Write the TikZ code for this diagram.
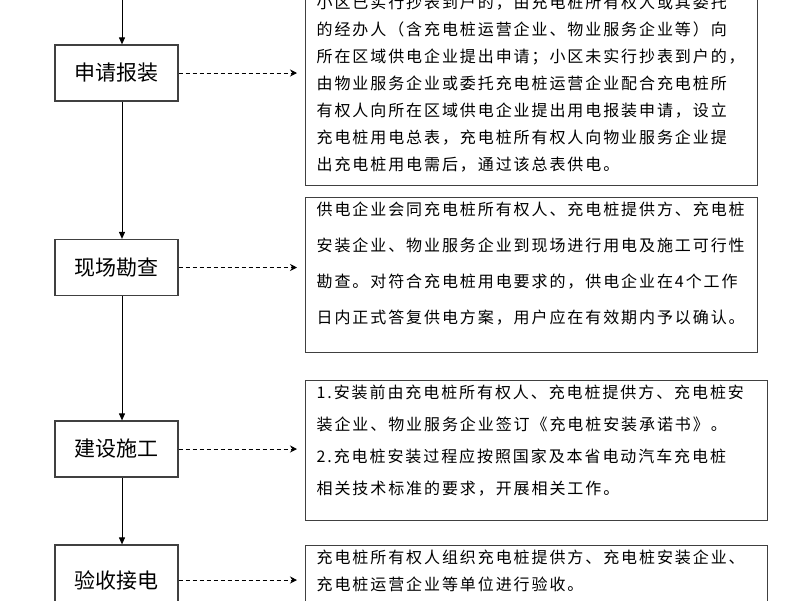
\documentclass[tikz,border=0pt]{standalone}
\usepackage{fontspec}
\setmainfont{Noto Sans CJK SC}
\newfontfamily\notefont[LetterSpace=12]{Noto Sans CJK SC}
\usetikzlibrary{positioning,arrows.meta}
\tikzset{
  stage/.style={draw=black!75,line width=1.2pt,minimum width=123pt,minimum height=56pt,inner sep=0pt,font=\fontsize{21}{21}\selectfont},
  note/.style={draw=black!75,line width=1.2pt,anchor=north west,inner sep=0pt,align=left,font=\notefont\fontsize{16}{27}\selectfont},
  flow/.style={-{Triangle[length=7pt,width=6pt]},line width=1pt},
  link/.style={-{Stealth[length=7pt,width=7pt]},dashed,dash pattern=on 4pt off 3pt,line width=0.9pt},
}
\newcommand{\notetext}[3]{\parbox[t][#2pt][t]{#1pt}{\vspace{4pt}\hspace*{11pt}\parbox[t]{\dimexpr#1pt-14pt}{#3}}}
\begin{document}
\begin{tikzpicture}[x=1pt,y=-1pt]
\useasboundingbox (0,0) rectangle (800,600);
%% stages
\node[stage] (apply) at (116.5,73) {申请报装};
\node[stage] (survey) at (116.5,267.5) {现场勘查};
\node[stage] (build) at (116.5,449) {建设施工};
\node[stage,minimum height=70pt] (accept) at (116.5,580) {验收接电};
\coordinate (top) at (122,0);
%% notes
\node[note] (n1) at (305,-10) {\notetext{452}{195}{小区已实行抄表到户的，由充电桩所有权人或其委托\\的经办人（含充电桩运营企业、物业服务企业等）向\\所在区域供电企业提出申请；小区未实行抄表到户的，\\由物业服务企业或委托充电桩运营企业配合充电桩所\\有权人向所在区域供电企业提出用电报装申请，设立\\充电桩用电总表，充电桩所有权人向物业服务企业提\\出充电桩用电需后，通过该总表供电。}};
\node[note,font=\notefont\fontsize{16}{36}\selectfont] (n2) at (305,197) {\notetext{452}{155}{供电企业会同充电桩所有权人、充电桩提供方、充电桩\\安装企业、物业服务企业到现场进行用电及施工可行性\\勘查。对符合充电桩用电要求的，供电企业在4个工作\\日内正式答复供电方案，用户应在有效期内予以确认。}};
\node[note,font=\notefont\fontsize{16}{32}\selectfont] (n3) at (305,380) {\notetext{462}{140}{1.安装前由充电桩所有权人、充电桩提供方、充电桩安\\装企业、物业服务企业签订《充电桩安装承诺书》。\\2.充电桩安装过程应按照国家及本省电动汽车充电桩\\相关技术标准的要求，开展相关工作。}};
\node[note] (n4) at (305,545) {\notetext{462}{80}{充电桩所有权人组织充电桩提供方、充电桩安装企业、\\充电桩运营企业等单位进行验收。}};
%% connectors
\draw[flow] (top) -- (apply.north -| top);
\draw[flow] (apply.south -| top) -- (survey.north -| top);
\draw[flow] (survey.south -| top) -- (build.north -| top);
\draw[flow] (build.south -| top) -- (accept.north -| top);
\draw[link] (apply.east) -- ([xshift=-8pt]apply.east -| n1.west);
\draw[link] (survey.east) -- ([xshift=-8pt]survey.east -| n2.west);
\draw[link] (build.east) -- ([xshift=-8pt]build.east -| n3.west);
\draw[link] (accept.east) -- ([xshift=-8pt]accept.east -| n4.west);
\end{tikzpicture}
\end{document}
